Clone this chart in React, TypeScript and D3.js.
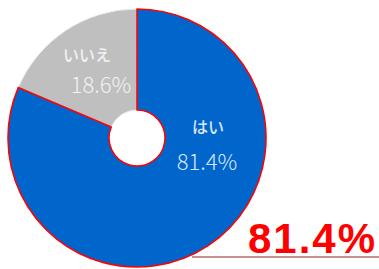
import React, { useRef, useEffect } from 'react';
import * as d3 from 'd3';

const categories = ['はい', 'いいえ'];
const values = [81.4, 18.6];
const colors = ['#0066cc', '#bfbfbf'];
const highlight = '81.4%';

const App: React.FC = () => {
  const svgRef = useRef<SVGSVGElement>(null);

  useEffect(() => {
    const svg = d3.select(svgRef.current);
    const width = 379;
    const height = 269;
    const cx = 137;
    const cy = 138;
    const radius = 129;
    const inner = 28;

    svg.selectAll('*').remove();
    svg.attr('width', width).attr('height', height);

    const pie = d3.pie<number>().sort(null).value((d) => d);
    const arcs = pie(values);
    const arcGen = d3.arc<d3.PieArcDatum<number>>().innerRadius(inner).outerRadius(radius);

    const g = svg.append('g').attr('transform', `translate(${cx}, ${cy})`);

    // gray first, then blue on top so the red outline shows fully
    const order = [1, 0];
    order.forEach((i) => {
      g.append('path')
        .attr('d', arcGen(arcs[i]) as string)
        .attr('fill', colors[i])
        .attr('stroke', i === 0 ? '#ff0000' : '#ececec')
        .attr('stroke-width', i === 0 ? 1.6 : 1)
        .attr('stroke-linejoin', 'round');
    });

    // label anchors (offsets from centre): [name x, name y, value x, value y]
    const labelPos = [
      [71, -5, 70, 32],
      [-50, -77, -36, -45],
    ];
    arcs.forEach((_, i) => {
      const p = labelPos[i];
      const t = g.append('text')
        .attr('text-anchor', 'middle')
        .attr('fill', i === 0 ? '#dce6f4' : '#f2f2f2')
        .style('font-family', '"Noto Sans CJK JP", "Noto Sans", sans-serif');
      t.append('tspan')
        .attr('x', p[0])
        .attr('y', p[1])
        .style('font-size', '16px')
        .style('font-weight', 500)
        .text(categories[i]);
      t.append('tspan')
        .attr('x', p[2])
        .attr('y', p[3])
        .style('font-size', '22px')
        .style('font-weight', 300)
        .text(`${values[i].toFixed(1)}%`);
    });

    svg.append('line')
      .attr('x1', 192)
      .attr('x2', width)
      .attr('y1', 257)
      .attr('y2', 257)
      .attr('stroke', '#b86a6a')
      .attr('stroke-width', 1.5);

    svg.append('text')
      .attr('x', 375)
      .attr('y', 253)
      .attr('text-anchor', 'end')
      .attr('fill', '#ff0000')
      .style('font-family', '"Liberation Sans", Arial, sans-serif')
      .style('font-weight', 'bold')
      .style('font-size', '42px')
      .attr('textLength', 127)
      .attr('lengthAdjust', 'spacing')
      .text(highlight);
  }, []);

  return <svg ref={svgRef} style={{ position: 'absolute', left: 0, top: 0 }} />;
};

export default App;
